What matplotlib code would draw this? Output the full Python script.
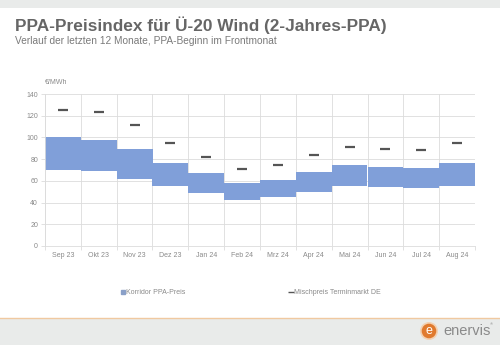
import numpy as np
import matplotlib.pyplot as plt
from matplotlib.patches import Circle, Rectangle
from matplotlib.lines import Line2D

plt.rcParams['font.family'] = ['Liberation Sans', 'DejaVu Sans']

# monthly PPA corridor (low/high) and blended forward market price, EUR/MWh
months = ["Sep 23", "Okt 23", "Nov 23", "Dez 23", "Jan 24", "Feb 24",
          "Mrz 24", "Apr 24", "Mai 24", "Jun 24", "Jul 24", "Aug 24"]
ppa_low = [70, 69, 62, 55, 49, 42, 45, 50, 55, 54, 53, 55]
ppa_high = [100, 98, 89, 76, 67, 58, 61, 68, 75, 73, 72, 76]
mischpreis = [125, 123, 111, 95, 82, 70.5, 75, 83.5, 91.5, 89, 88.5, 95]

band_color = "#809fd9"
text_gray = "#8a8a8a"
grid_gray = "#dcdcdc"

fig = plt.figure(figsize=(5, 3.45), dpi=100)
fig.patch.set_facecolor("white")

# background layer in pixel coordinates: header/footer strips and logo
bg = fig.add_axes([0, 0, 1, 1], facecolor="none", zorder=-1)
bg.set_xlim(0, 500)
bg.set_ylim(345, 0)
bg.axis("off")
bg.add_patch(Rectangle((0, 0), 500, 8, facecolor="#e9ebea", edgecolor="none"))
bg.add_patch(Rectangle((0, 318), 500, 27, facecolor="#e9ebea", edgecolor="none"))
bg.plot([0, 500], [318, 318], color="#f0c9a0", lw=1.0)
bg.add_patch(Circle((429, 331), 9, facecolor="#f3d2b3", edgecolor="none"))
bg.add_patch(Circle((429, 331), 7.3, facecolor="#e07a2e", edgecolor="none"))
bg.text(429, 331.5, "e", fontsize=9, color="white", ha="center", va="center")
bg.text(443, 331, "enervis", fontsize=10.5, color="#8a8a8a", ha="left", va="center")
bg.text(490, 324, "®", fontsize=3, color="#8a8a8a", ha="left", va="center")

fig.text(15 / 500, 1 - 25 / 345, "PPA-Preisindex für Ü-20 Wind (2-Jahres-PPA)",
         fontsize=12.4, fontweight="bold", color="#666666", va="center", ha="left")
fig.text(15 / 500, 1 - 41 / 345, "Verlauf der letzten 12 Monate, PPA-Beginn im Frontmonat",
         fontsize=7.3, color="#7a7a7a", va="center", ha="left")

ax = fig.add_axes([45 / 500, 1 - 246 / 345, 430 / 500, 152 / 345], facecolor="none")
x = np.arange(len(months))
heights = np.array(ppa_high) - np.array(ppa_low)
ax.bar(x, heights, bottom=ppa_low, width=1.0, color=band_color, edgecolor="none", zorder=2)
ax.plot(x, mischpreis, linestyle="none", marker="_", markersize=7.5, markeredgewidth=1.6,
        color="#555555", zorder=3)

ax.set_xlim(-0.5, len(months) - 0.5)
ax.set_ylim(0, 140)
ax.set_yticks(range(0, 141, 20))
ax.set_xticks(x)
ax.set_xticklabels(months)
ax.set_xticks(np.arange(-0.5, len(months)), minor=True)

ax.grid(axis="y", color=grid_gray, lw=0.6, zorder=0)
ax.grid(axis="x", which="minor", color=grid_gray, lw=0.6, zorder=0)
ax.tick_params(axis="x", which="major", length=0, labelsize=5, labelcolor=text_gray, pad=4)
ax.tick_params(axis="x", which="minor", length=3, color=grid_gray, width=0.6)
ax.tick_params(axis="y", length=3, color=grid_gray, width=0.6, labelsize=5,
               labelcolor=text_gray, pad=2)
for side in ["top", "right"]:
    ax.spines[side].set_visible(False)
for side in ["left", "bottom"]:
    ax.spines[side].set_color(grid_gray)
    ax.spines[side].set_linewidth(0.6)

fig.text(45 / 500, 1 - 82 / 345, "€/MWh", fontsize=5, color=text_gray, va="center")

handles = [Line2D([], [], linestyle="none", marker="s", markersize=2.5, color="#8aa0c8"),
           Line2D([], [], linestyle="none", marker="_", markersize=4, markeredgewidth=1,
                  color="#555555")]
fig.legend(handles, ["Korridor PPA-Preis", "Mischpreis Terminmarkt DE"], ncol=2,
           loc="center", bbox_to_anchor=(251 / 500, 1 - 293 / 345), frameon=False,
           fontsize=5, labelcolor=text_gray, handlelength=0.5, handletextpad=0.2,
           columnspacing=15.0)

fig.savefig("out.png", dpi=100)
